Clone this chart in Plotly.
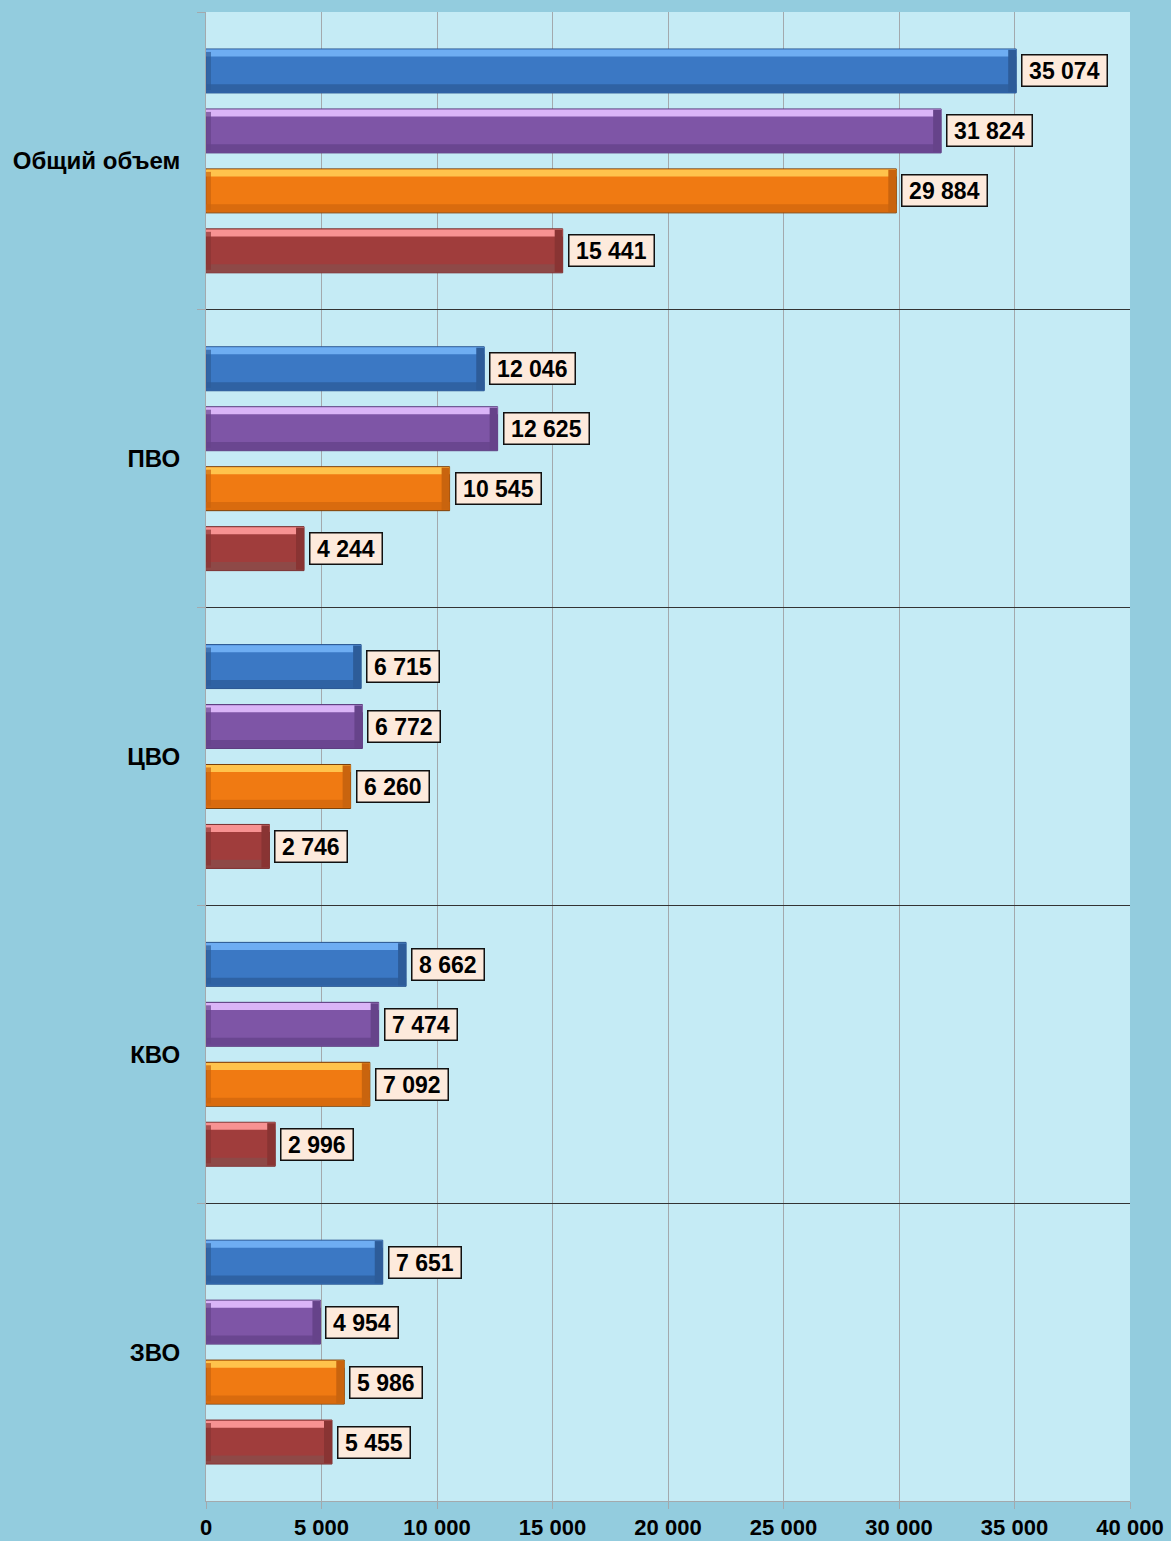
import plotly.graph_objects as go

# ---- data ----
categories = ["Общий объем", "ПВО", "ЦВО", "КВО", "ЗВО"]
series_names = ["Ряд 1", "Ряд 2", "Ряд 3", "Ряд 4"]
blue_vals = [35074, 12046, 6715, 8662, 7651]
purple_vals = [31824, 12625, 6772, 7474, 4954]
orange_vals = [29884, 10545, 6260, 7092, 5986]
red_vals = [15441, 4244, 2746, 2996, 5455]
x_ticks = [0, 5000, 10000, 15000, 20000, 25000, 30000, 35000, 40000]

# ---- styles ----
styles = [
    dict(main="#3B78C4", top="#6EADF2", bottom="#2F62A3", end="#2D5C99", line="#2A5590"),
    dict(main="#7E55A6", top="#DAB4F7", bottom="#6A4690", end="#66438A", line="#5E3F80"),
    dict(main="#F07A12", top="#FFC34C", bottom="#D96B0E", end="#C9640E", line="#7A3E08"),
    dict(main="#A03D3C", top="#F79292", bottom="#8E4947", end="#893433", line="#7A3030"),
]
all_vals = [blue_vals, purple_vals, orange_vals, red_vals]

px_per_unit = 298.0
bar_w = 44 / px_per_unit
top_h = 7 / px_per_unit
bot_h = 8 / px_per_unit
centers = [-90 / px_per_unit, -30 / px_per_unit, 30 / px_per_unit, 90 / px_per_unit]
x_per_px = 40000 / 924
end_len = 8 * x_per_px
start_len = 5 * x_per_px

fig = go.Figure()
for i, (vals, st, name) in enumerate(zip(all_vals, styles, series_names)):
    off = centers[i] - bar_w / 2
    # main bar
    fig.add_trace(go.Bar(
        y=categories, x=vals, orientation="h", name=name,
        offset=off, width=bar_w,
        marker=dict(color=st["main"], line=dict(color=st["line"], width=1)),
        hoverinfo="x+y", showlegend=False))
    # top highlight
    fig.add_trace(go.Bar(
        y=categories, x=vals, orientation="h", offset=off + 0.002, width=top_h,
        marker=dict(color=st["top"], line=dict(width=0)),
        hoverinfo="skip", showlegend=False))
    # bottom shade
    fig.add_trace(go.Bar(
        y=categories, x=vals, orientation="h", offset=off + bar_w - bot_h - 0.002, width=bot_h,
        marker=dict(color=st["bottom"], line=dict(width=0)),
        hoverinfo="skip", showlegend=False))
    # left-end bevel
    fig.add_trace(go.Bar(
        y=categories, x=[start_len] * len(vals), base=[0] * len(vals),
        orientation="h", offset=off + 0.01, width=bar_w - 0.02,
        marker=dict(color=st["end"], line=dict(width=0)), opacity=0.7,
        hoverinfo="skip", showlegend=False))
    # right-end bevel
    fig.add_trace(go.Bar(
        y=categories, x=[end_len] * len(vals), base=[v - end_len for v in vals],
        orientation="h", offset=off + 0.003, width=bar_w - 0.006,
        marker=dict(color=st["end"], line=dict(width=0)),
        hoverinfo="skip", showlegend=False))

# value labels
annotations = []
for i, vals in enumerate(all_vals):
    for j, v in enumerate(vals):
        annotations.append(dict(
            x=v, y=j + centers[i], xref="x", yref="y",
            text="\u2009" + f"{v:,}".replace(",", " ") + "\u2009",
            showarrow=False, xanchor="left", yanchor="middle", xshift=5,
            font=dict(family="Liberation Sans, Arial", size=23, color="black", weight="bold"),
            bgcolor="#FDEADC", bordercolor="#111111", borderwidth=1.5, borderpad=2))

fig.update_layout(
    barmode="overlay",
    width=1171, height=1541,
    margin=dict(l=206, r=41, t=12, b=40),
    paper_bgcolor="#93CCDE",
    plot_bgcolor="#C5EBF5",
    annotations=annotations,
    separators=", ",
    font=dict(family="Liberation Sans, Arial", color="black"),
)
fig.update_xaxes(
    range=[0, 40000], tickvals=x_ticks, tickformat=",d",
    showgrid=True, gridcolor="#A3A9AD", gridwidth=1,
    showline=True, linecolor="#A3A9AD", linewidth=1,
    ticks="outside", ticklen=7, tickcolor="#A3A9AD",
    tickfont=dict(size=22, family="Liberation Sans, Arial", weight="bold", color="black"),
    zeroline=False, automargin=False,
)
fig.update_yaxes(
    type="category", categoryorder="array", categoryarray=categories,
    range=[4.5, -0.5], tickson="boundaries",
    showgrid=True, gridcolor="#333333", gridwidth=1,
    showline=True, linecolor="#A3A9AD", linewidth=1,
    ticks="outside", ticklen=8, tickcolor="#A3A9AD",
    ticklabelstandoff=20, automargin=False,
    tickfont=dict(size=24, family="Liberation Sans, Arial", weight="bold", color="black"),
)

fig.write_html("out.html", config={"displayModeBar": False},
               post_script="document.body.style.margin='0';document.body.style.background='#93CCDE';")
